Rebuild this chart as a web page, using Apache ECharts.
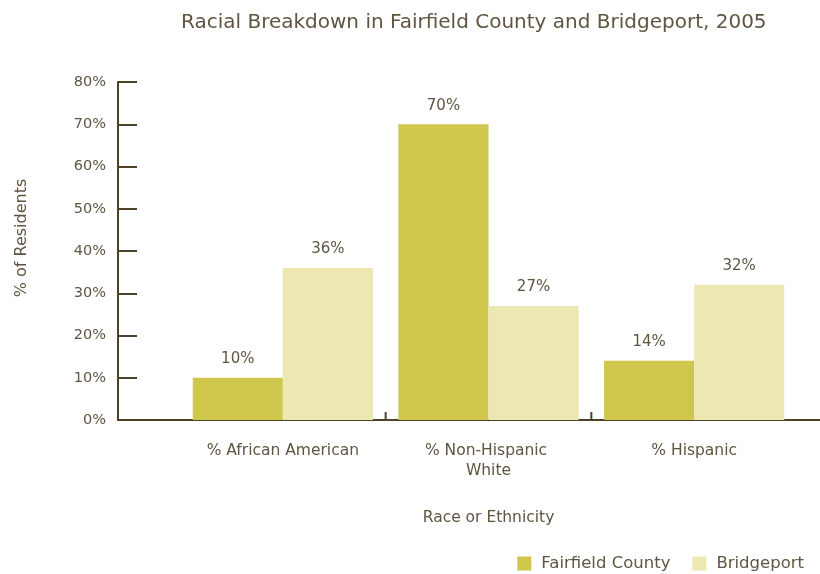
<!DOCTYPE html>
<html>
<head>
<meta charset="utf-8">
<script src="https://cdn.jsdelivr.net/npm/echarts@6/dist/echarts.min.js"></script>
<style>
  html, body { margin: 0; padding: 0; background: #fff; }
  #chart { width: 820px; height: 574px; }
</style>
</head>
<body>
<div id="chart"></div>
<script>
// Share of residents by race/ethnicity, 2005
const categories = ['% African American', '% Non-Hispanic White', '% Hispanic'];
const fairfieldCounty = [10, 70, 14];
const bridgeport = [36, 27, 32];
const yTicks = [0, 10, 20, 30, 40, 50, 60, 70, 80];
// category boundaries that carry a divider tick (after category 0 and 1)
const dividers = [0, 1];

const textColor = '#5f5541';
const axisColor = '#4f4125';
const font = 'DejaVu Sans';

const chart = echarts.init(document.getElementById('chart'));

const barLabel = {
  show: true,
  position: 'top',
  distance: 11,
  color: textColor,
  fontFamily: font,
  fontSize: 15,
  formatter: p => p.value + '%'
};

chart.setOption({
  animation: false,
  textStyle: { fontFamily: font, color: textColor },
  title: {
    text: 'Racial Breakdown in Fairfield County and Bridgeport, 2005',
    left: 176,
    top: 8,
    textStyle: { fontFamily: font, fontSize: 20, fontWeight: 'normal', color: textColor }
  },
  legend: {
    right: 11,
    top: 550,
    itemWidth: 14,
    itemHeight: 14,
    itemGap: 22,
    icon: 'rect',
    textStyle: { fontFamily: font, fontSize: 16.5, color: textColor, padding: [0, 0, 0, 5] },
    data: ['Fairfield County', 'Bridgeport']
  },
  grid: [
    { left: 180, right: 23, top: 82, bottom: 154 },
    { left: 118, right: 0, top: 82, bottom: 154 }
  ],
  xAxis: [
    {
      type: 'category',
      gridIndex: 0,
      data: categories,
      axisLine: { show: false },
      axisTick: { show: false },
      axisLabel: {
        interval: 0,
        color: textColor,
        fontFamily: font,
        fontSize: 15.5,
        margin: 21,
        lineHeight: 20,
        width: 172,
        overflow: 'break'
      },
      name: 'Race or Ethnicity',
      nameLocation: 'middle',
      nameGap: 90,
      nameTextStyle: { fontFamily: font, fontSize: 15.5, color: textColor }
    },
    {
      type: 'value',
      gridIndex: 1,
      axisLine: { show: true, onZero: false, lineStyle: { color: axisColor, width: 2 } },
      axisTick: { show: false },
      axisLabel: { show: false },
      splitLine: { show: false }
    }
  ],
  yAxis: [
    {
      type: 'value',
      gridIndex: 0,
      min: yTicks[0],
      max: yTicks[yTicks.length - 1],
      interval: 10,
      offset: 62,
      axisLine: { show: true, lineStyle: { color: axisColor, width: 2 } },
      axisTick: { show: true, inside: true, length: 19, lineStyle: { color: axisColor, width: 2 } },
      splitLine: { show: false },
      axisLabel: {
        color: textColor,
        fontFamily: font,
        fontSize: 14.5,
        margin: 12,
        formatter: v => v + '%'
      },
      name: '% of Residents',
      nameLocation: 'middle',
      nameGap: 88,
      nameRotate: 90,
      nameTextStyle: { fontFamily: font, fontSize: 16, color: textColor, padding: [0, 0, 0, 26] }
    },
    {
      type: 'value',
      gridIndex: 1,
      show: false
    }
  ],
  series: [
    {
      name: 'Fairfield County',
      type: 'bar',
      xAxisIndex: 0,
      yAxisIndex: 0,
      data: fairfieldCounty,
      barGap: '0%',
      barCategoryGap: '12.4%',
      itemStyle: { color: '#cfc64c' },
      label: barLabel
    },
    {
      name: 'Bridgeport',
      type: 'bar',
      xAxisIndex: 0,
      yAxisIndex: 0,
      data: bridgeport,
      barGap: '0%',
      barCategoryGap: '12.4%',
      itemStyle: { color: '#ede7b2' },
      label: barLabel
    },
    {
      // short upward divider ticks between neighbouring categories
      type: 'custom',
      xAxisIndex: 0,
      yAxisIndex: 0,
      silent: true,
      data: dividers,
      renderItem: (params, api) => {
        const idx = api.value(0);
        const base = api.coord([idx, 0]);
        const band = api.size([1, 0])[0];
        const x = base[0] + band / 2;
        return {
          type: 'line',
          shape: { x1: x, y1: base[1], x2: x, y2: base[1] - 8 },
          style: { stroke: axisColor, lineWidth: 2 }
        };
      }
    }
  ]
});
</script>
</body>
</html>
